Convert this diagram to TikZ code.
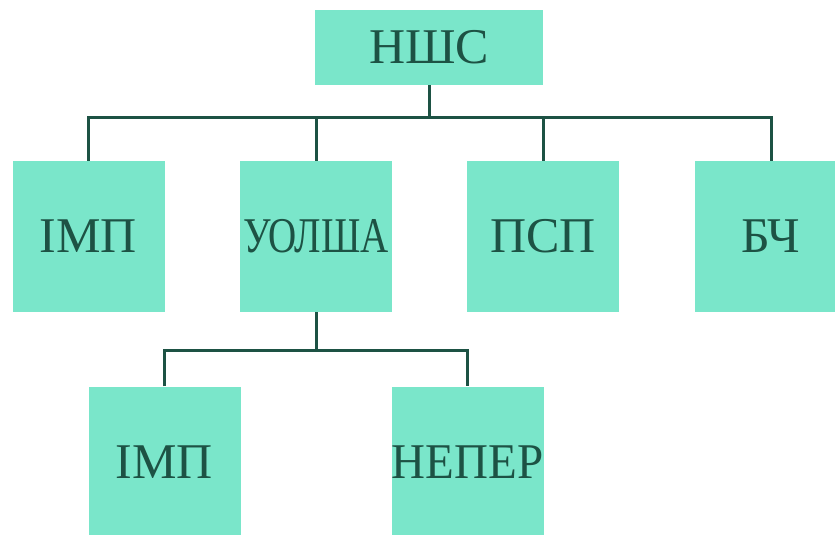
\documentclass[tikz,border=0pt]{standalone}
\usepackage{fontspec}
\setmainfont{Liberation Serif}
\definecolor{boxfill}{HTML}{7AE6CA}
\definecolor{ink}{HTML}{1D5244}
\begin{document}
\begin{tikzpicture}[x=1pt,y=-1pt,
  orgbox/.style={fill=boxfill, inner sep=0pt, text=ink,
    font=\fontsize{50}{50}\selectfont},
  widebox/.style={orgbox, minimum width=228pt, minimum height=75pt},
  sqbox/.style={orgbox, minimum width=152pt, minimum height=151pt},
  link/.style={draw=ink, line width=3pt, line join=miter}]
\clip (0,0) rectangle (835,535);
\fill[white] (0,0) rectangle (835,535);
% top level
\node[widebox] (top) at (429,47.5) {НШС};
% second level
\node[sqbox] (b1) at (88.5,236.5) {ІМП};
\node[sqbox] (b2) at (316,236.5) {\raisebox{-2pt}{\scalebox{0.78}[1]{УОЛША}}};
\node[sqbox] (b3) at (543,236.5) {ПСП};
\node[sqbox] (b4) at (771,236.5) {БЧ};
% third level
\node[sqbox] (c1) at (164.5,462) {ІМП};
\node[sqbox] (c2) at (467.5,462) {\scalebox{0.94}[1]{НЕПЕР}};
% connectors
\coordinate (busA) at (429,117);
\coordinate (busB) at (316,350);
\draw[link] (top.south) -- (busA);
\draw[link] (b1.north) |- (busA) -| (b4.north);
\draw[link] (b2.north) -- (b2.north |- busA);
\draw[link] (b3.north) -- (b3.north |- busA);
\draw[link] (b2.south) -- (busB);
\draw[link] (c1.north) |- (busB) -| (c2.north);
\end{tikzpicture}
\end{document}
